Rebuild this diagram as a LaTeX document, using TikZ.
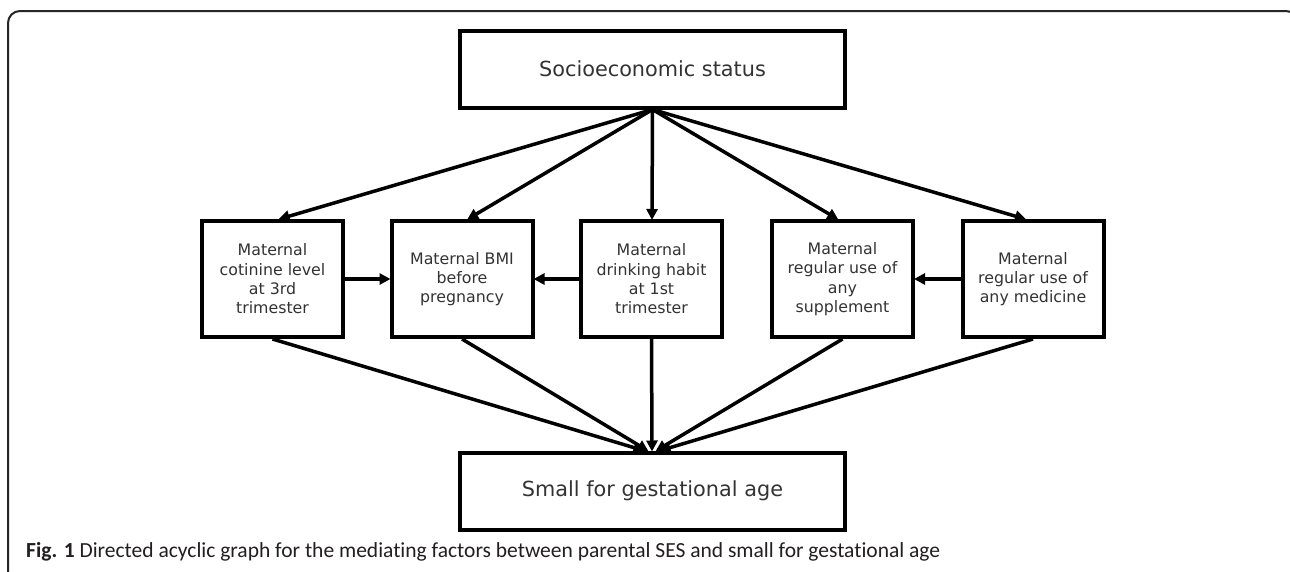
\documentclass[tikz,border=0pt]{standalone}
\usepackage{fontspec}
\usetikzlibrary{arrows.meta}
\newfontfamily\boxfont{DejaVu Sans}
\newfontfamily\capfont[Ligatures=NoCommon]{Carlito}
\definecolor{txtgray}{HTML}{333333}
\definecolor{capgray}{HTML}{231F20}
\tikzset{
  bigbox/.style={draw=black, line width=4pt, minimum width=385pt, minimum height=77pt, inner sep=0pt,
    text=txtgray, font=\boxfont\fontsize{20.8}{25}\selectfont},
  midbox/.style={draw=black, line width=4pt, minimum width=141pt, minimum height=116pt, inner sep=0pt,
    align=center, text=txtgray, font=\boxfont\fontsize{15.8}{19.3}\selectfont},
  arr/.style={line width=3.5pt, -{Triangle[length=11pt,width=11pt]}, shorten >=-1pt},
}
\begin{document}
\begin{tikzpicture}[x=1pt,y=-1pt]
\useasboundingbox (0,0) rectangle (1290,571);
\clip (0,0) rectangle (1290,571);
\fill[white] (0,0) rectangle (1290,571);
\draw[line width=2pt, black!85, rounded corners=12pt] (8,11) rectangle (1298,700);

\node[bigbox] (ses) at (652.5,69) {Socioeconomic status};
\node[bigbox] (sga) at (652.5,491) {Small for gestational age};

\node[midbox] (b1) at (272.5,279) {Maternal\\cotinine level\\at 3rd\\trimester};
\node[midbox] (b2) at (462,279) {Maternal BMI\\before\\pregnancy};
\node[midbox] (b3) at (651.5,279) {Maternal\\drinking habit\\at 1st\\trimester};
\node[midbox] (b4) at (842.5,279) {Maternal\\regular use of\\any\\supplement};
\node[midbox] (b5) at (1033,279) {Maternal\\regular use of\\any medicine};

\draw[arr] (ses.south) -- ([xshift=7pt]b1.north);
\draw[arr] (ses.south) -- ([xshift=6pt]b2.north);
\draw[arr] (ses.south) -- ([xshift=0.5pt]b3.north);
\draw[arr] (ses.south) -- ([xshift=-5pt]b4.north);
\draw[arr] (ses.south) -- ([xshift=-8pt]b5.north);

\draw[arr] (b1.east) -- (b2.west);
\draw[arr] (b3.west) -- (b2.east);
\draw[arr] (b5.west) -- (b4.east);

\draw[arr] (b1.south) -- ([xshift=-9pt]sga.north);
\draw[arr] (b2.south) -- ([xshift=-5pt]sga.north);
\draw[arr] (b3.south) -- ([xshift=-0.5pt]sga.north);
\draw[arr] (b4.south) -- ([xshift=4pt]sga.north);
\draw[arr] (b5.south) -- ([xshift=8pt]sga.north);

\node[anchor=base west, inner sep=0pt, text=capgray] (cap) at (26,557)
  {\resizebox{914pt}{!}{\capfont\fontsize{20}{24}\selectfont\textbf{Fig. 1} Directed acyclic graph for the mediating factors between parental SES and small for gestational age}};
\end{tikzpicture}
\end{document}
